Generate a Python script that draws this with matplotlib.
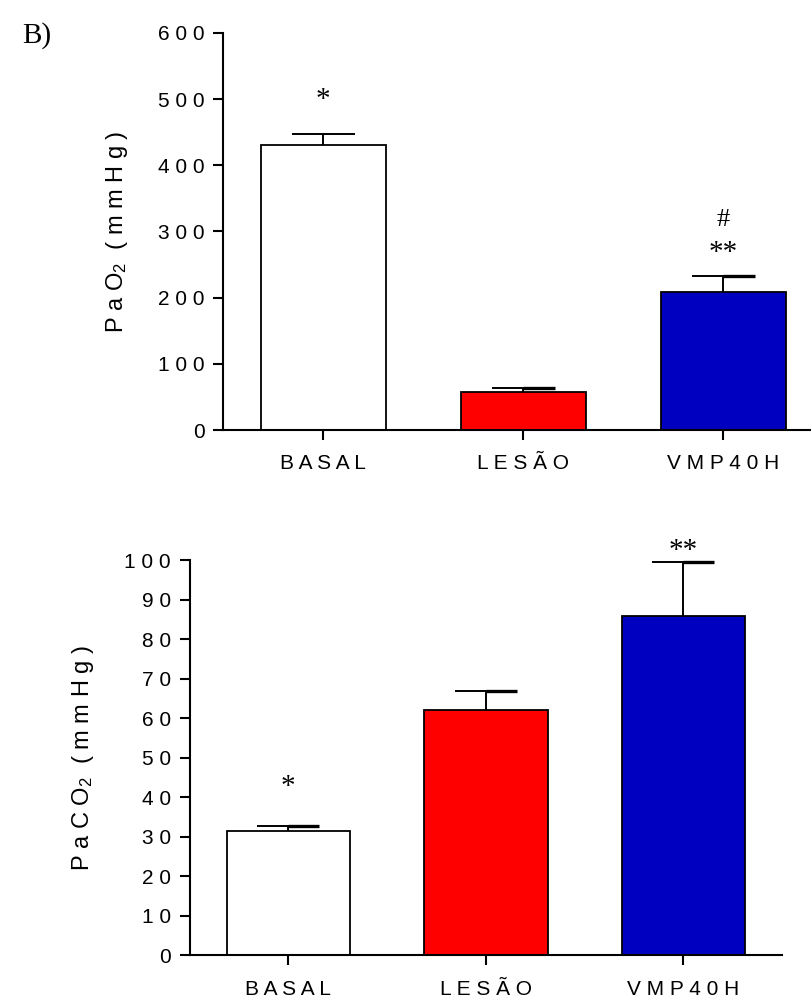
import matplotlib
matplotlib.use("Agg")
import matplotlib.pyplot as plt

plt.rcParams["font.family"] = ["Liberation Sans", "DejaVu Sans"]
plt.rcParams["mathtext.fontset"] = "custom"
plt.rcParams["mathtext.rm"] = "Liberation Sans"
plt.rcParams["mathtext.it"] = "Liberation Sans:italic"

groups = ["BASAL", "LESÃO", "VMP40H"]
colors = ["#FFFFFF", "#FF0000", "#0000C0"]

pao2_mean = [430, 57, 209]
pao2_err = [17, 6, 23]

paco2_mean = [31.5, 62, 85.8]
paco2_err = [1.1, 4.8, 13.8]


def spaced(s):
    # GraphPad-like letter spacing
    return " ".join(s)


def bars(ax, means, errs, heavy, width=0.625):
    x = range(len(means))
    ax.bar(x, means, width=width, color=colors, edgecolor="black", linewidth=1.3, zorder=2)
    for i, (m, e) in enumerate(zip(means, errs)):
        top = m + e
        ax.vlines(i, m, top, color="black", linewidth=1.4, zorder=3)
        ax.hlines(top, i - width / 4, i + width / 4, color="black", linewidth=1.4, zorder=3)
        if heavy[i]:
            ax.hlines(top, i, i + width / 4, color="black", linewidth=2.4, zorder=3)


def style(ax):
    ax.spines["top"].set_visible(False)
    ax.spines["right"].set_visible(False)
    for s in ("left", "bottom"):
        ax.spines[s].set_linewidth(1.5)
    ax.tick_params(axis="both", width=1.5, length=7.5, labelsize=15)
    ax.tick_params(axis="y", pad=6)
    ax.tick_params(axis="x", pad=10)
    ax.set_xlim(-0.5, 2.5)
    ax.set_xticks(range(len(groups)))
    ax.set_xticklabels([spaced(g) for g in groups])


fig = plt.figure(figsize=(8.11, 10), dpi=100)

# PaO2
ax1 = fig.add_axes([223.3 / 811, 0.570, 600 / 811, 0.397])
bars(ax1, pao2_mean, pao2_err, [False, True, True])
style(ax1)
ax1.set_ylim(0, 600)
ax1.set_yticks(range(0, 601, 100))
ax1.set_yticklabels([spaced(str(v)) for v in range(0, 601, 100)])
ax1.set_ylabel("P a O$_{2}$  ( m m H g )", fontsize=17, labelpad=20)
ax1.text(0, 498, "*", ha="center", va="center", fontsize=21, family="Liberation Serif")
ax1.text(2, 268, "**", ha="center", va="center", fontsize=21, family="Liberation Serif")
ax1.text(2, 318, "#", ha="center", va="center", fontsize=19, family="Liberation Serif")

# PaCO2
ax2 = fig.add_axes([189.6 / 811, 0.0447, (782 - 189.6) / 811, 0.3953])
bars(ax2, paco2_mean, paco2_err, [True, True, True])
style(ax2)
ax2.set_ylim(0, 100)
ax2.set_yticks(range(0, 101, 10))
ax2.set_yticklabels([spaced(str(v)) for v in range(0, 101, 10)])
ax2.set_ylabel("P a C O$_{2}$  ( m m H g )", fontsize=17, labelpad=20)
ax2.text(0, 42.6, "*", ha="center", va="center", fontsize=21, family="Liberation Serif")
ax2.text(2, 102.2, "**", ha="center", va="center", fontsize=21,
         family="Liberation Serif", clip_on=False)

fig.text(0.027, 0.978, "B)", fontsize=21, family="Liberation Serif", va="top", ha="left")

fig.savefig("out.png", dpi=100)
